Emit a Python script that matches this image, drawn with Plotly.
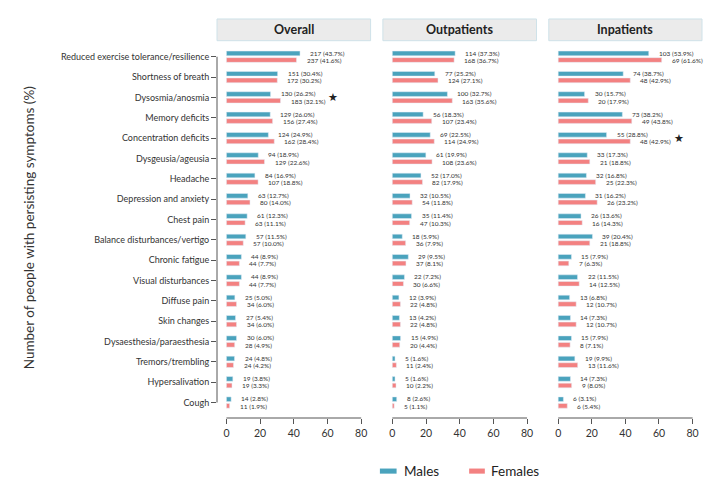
import plotly.graph_objects as go

categories = [
    "Reduced exercise tolerance/resilience", "Shortness of breath", "Dysosmia/anosmia",
    "Memory deficits", "Concentration deficits", "Dysgeusia/ageusia", "Headache",
    "Depression and anxiety", "Chest pain", "Balance disturbances/vertigo", "Chronic fatigue",
    "Visual disturbances", "Diffuse pain", "Skin changes", "Dysaesthesia/paraesthesia",
    "Tremors/trembling", "Hypersalivation", "Cough",
]

overall_male_n = [217, 151, 130, 129, 124, 94, 84, 63, 61, 57, 44, 44, 25, 27, 30, 24, 19, 14]
overall_male_pct = [43.7, 30.4, 26.2, 26.0, 24.9, 18.9, 16.9, 12.7, 12.3, 11.5, 8.9, 8.9, 5.0, 5.4, 6.0, 4.8, 3.8, 2.8]
overall_female_n = [237, 172, 183, 156, 162, 129, 107, 80, 63, 57, 44, 44, 34, 34, 28, 24, 19, 11]
overall_female_pct = [41.6, 30.2, 32.1, 27.4, 28.4, 22.6, 18.8, 14.0, 11.1, 10.0, 7.7, 7.7, 6.0, 6.0, 4.9, 4.2, 3.3, 1.9]

out_male_n = [114, 77, 100, 56, 69, 61, 52, 32, 35, 18, 29, 22, 12, 13, 15, 5, 5, 8]
out_male_pct = [37.3, 25.2, 32.7, 18.3, 22.5, 19.9, 17.0, 10.5, 11.4, 5.9, 9.5, 7.2, 3.9, 4.2, 4.9, 1.6, 1.6, 2.6]
out_female_n = [168, 124, 163, 107, 114, 108, 82, 54, 47, 36, 37, 30, 22, 22, 20, 11, 10, 5]
out_female_pct = [36.7, 27.1, 35.6, 23.4, 24.9, 23.6, 17.9, 11.8, 10.3, 7.9, 8.1, 6.6, 4.8, 4.8, 4.4, 2.4, 2.2, 1.1]

in_male_n = [103, 74, 30, 73, 55, 33, 32, 31, 26, 39, 15, 22, 13, 14, 15, 19, 14, 6]
in_male_pct = [53.9, 38.7, 15.7, 38.2, 28.8, 17.3, 16.8, 16.2, 13.6, 20.4, 7.9, 11.5, 6.8, 7.3, 7.9, 9.9, 7.3, 3.1]
in_female_n = [69, 48, 20, 49, 48, 21, 25, 26, 16, 21, 7, 14, 12, 12, 8, 13, 9, 6]
in_female_pct = [61.6, 42.9, 17.9, 43.8, 42.9, 18.8, 22.3, 23.2, 14.3, 18.8, 6.3, 12.5, 10.7, 10.7, 7.1, 11.6, 8.0, 5.4]

panel_titles = ["Overall", "Outpatients", "Inpatients"]
x_ticks = [0, 20, 40, 60, 80]
star_marks = [("Overall", "Dysosmia/anosmia", 63), ("Inpatients", "Concentration deficits", 72.2)]
y_title = "Number of people with persisting symptoms (%)"
series_names = ["Males", "Females"]

MALE = "#4aa3bd"
FEMALE = "#f38181"
FONT = "Lato"
TXT = "#333333"

panels = [
    (overall_male_n, overall_male_pct, overall_female_n, overall_female_pct),
    (out_male_n, out_male_pct, out_female_n, out_female_pct),
    (in_male_n, in_male_pct, in_female_n, in_female_pct),
]

# the page body adds an 8px offset; work in reference pixel coordinates and shift
OFF = 8
W, H = 725 - OFF, 498 - OFF
PLOT_L, PLOT_R, PLOT_T, PLOT_B = 217, 702.3, 44, 417.7   # reference pixel coords
L = PLOT_L - OFF
T = PLOT_T - OFF
R = W - (PLOT_R - OFF)
B = H - (PLOT_B - OFF)
pw = PLOT_R - PLOT_L
ph = PLOT_B - PLOT_T


def px2x(px):
    return (px - PLOT_L) / pw


def py2y(py):
    return (PLOT_B - py) / ph


dom_px = [(217, 370.7), (383, 536.7), (549, 702.3)]

fig = go.Figure()
annotations = []
shapes = []
BW = 0.23
LBL = 6.5
DY = 0.18
for k, (mn, mp, fn, fp) in enumerate(panels):
    ax = "x" if k == 0 else f"x{k+1}"
    fig.add_trace(go.Bar(y=categories, x=mp, orientation="h", marker_color=MALE,
                         width=BW, offset=-0.277, xaxis=ax, yaxis="y",
                         showlegend=False, name=series_names[0]))
    fig.add_trace(go.Bar(y=categories, x=fp, orientation="h", marker_color=FEMALE,
                         width=BW, offset=0.047, xaxis=ax, yaxis="y",
                         showlegend=False, name=series_names[1]))
    for i in range(len(categories)):
        annotations.append(dict(x=mp[i], y=i - DY, xref=ax, yref="y",
                                text=f"{mn[i]} ({mp[i]:.1f}%)", showarrow=False,
                                xanchor="left", yanchor="middle", xshift=9, borderpad=0,
                                font=dict(size=LBL, color=TXT, family=FONT)))
        annotations.append(dict(x=fp[i], y=i + DY, xref=ax, yref="y",
                                text=f"{fn[i]} ({fp[i]:.1f}%)", showarrow=False,
                                xanchor="left", yanchor="middle", xshift=9, borderpad=0,
                                font=dict(size=LBL, color=TXT, family=FONT)))
    shapes.append(dict(type="line", xref=ax, yref="y domain", x0=x_ticks[0], x1=x_ticks[-1],
                       y0=0, y1=0, line=dict(color="#555555", width=1)))
    x0, x1 = dom_px[k]
    shapes.append(dict(type="rect", xref="paper", yref="paper", x0=px2x(x0), x1=px2x(x1),
                       y0=py2y(40.7), y1=py2y(19), fillcolor="#ebebeb",
                       line=dict(color="#cfe2e9", width=1), layer="below"))
    annotations.append(dict(x=(px2x(x0) + px2x(x1)) / 2, y=py2y(29.8), xref="paper", yref="paper",
                            text=f"<b>{panel_titles[k]}</b>", showarrow=False,
                            xanchor="center", yanchor="middle",
                            font=dict(size=12.5, color="#222222", family=FONT)))

shapes.append(dict(type="line", xref="x domain", yref="y", x0=0, x1=0, y0=0,
                   y1=len(categories) - 1, line=dict(color="#555555", width=1)))

for title, cat, xv in star_marks:
    k = panel_titles.index(title)
    ax = "x" if k == 0 else f"x{k+1}"
    annotations.append(dict(x=xv, y=categories.index(cat), xref=ax, yref="y", text="★",
                            showarrow=False, xanchor="center", yanchor="middle",
                            font=dict(size=11, color="#222222", family="DejaVu Sans")))

annotations.append(dict(x=px2x(29), y=py2y(228), xref="paper", yref="paper", text=y_title,
                        textangle=-90, showarrow=False, xanchor="center", yanchor="middle",
                        font=dict(size=13.5, color=TXT, family=FONT)))

for name, col, sx0, sx1, tx in [(series_names[0], MALE, 380, 396.7, 402.5),
                                (series_names[1], FEMALE, 469.3, 485, 489.5)]:
    shapes.append(dict(type="rect", xref="paper", yref="paper", x0=px2x(sx0), x1=px2x(sx1),
                       y0=py2y(473.3), y1=py2y(468.2), fillcolor=col, line=dict(width=0)))
    annotations.append(dict(x=px2x(tx), y=py2y(470.7), xref="paper", yref="paper", text=name,
                            showarrow=False, xanchor="left", yanchor="middle",
                            font=dict(size=13.5, color="#222222", family=FONT)))

layout = dict(
    width=W, height=H,
    margin=dict(l=L, r=R, t=T, b=B, pad=0),
    plot_bgcolor="white", paper_bgcolor="white",
    barmode="overlay",
    font=dict(family=FONT, color=TXT),
    yaxis=dict(type="category", categoryarray=categories, range=[17.76, -0.625],
               ticks="outside", ticklen=5, tickcolor="#555555", showgrid=False,
               showline=False, zeroline=False, anchor="x",
               tickfont=dict(size=9, color=TXT, family=FONT)),
    annotations=annotations,
    shapes=shapes,
)
for k in range(3):
    key = "xaxis" if k == 0 else f"xaxis{k+1}"
    x0, x1 = dom_px[k]
    layout[key] = dict(domain=[max(0, px2x(x0)), min(1, px2x(x1))], range=[-5.6, 85.6],
                       tickvals=x_ticks, ticks="outside", ticklen=5, tickcolor="#555555",
                       showgrid=False, zeroline=False, showline=False, anchor="y",
                       tickfont=dict(size=10.5, color=TXT, family=FONT))
fig.update_layout(**layout)
fig.write_html("out.html")
